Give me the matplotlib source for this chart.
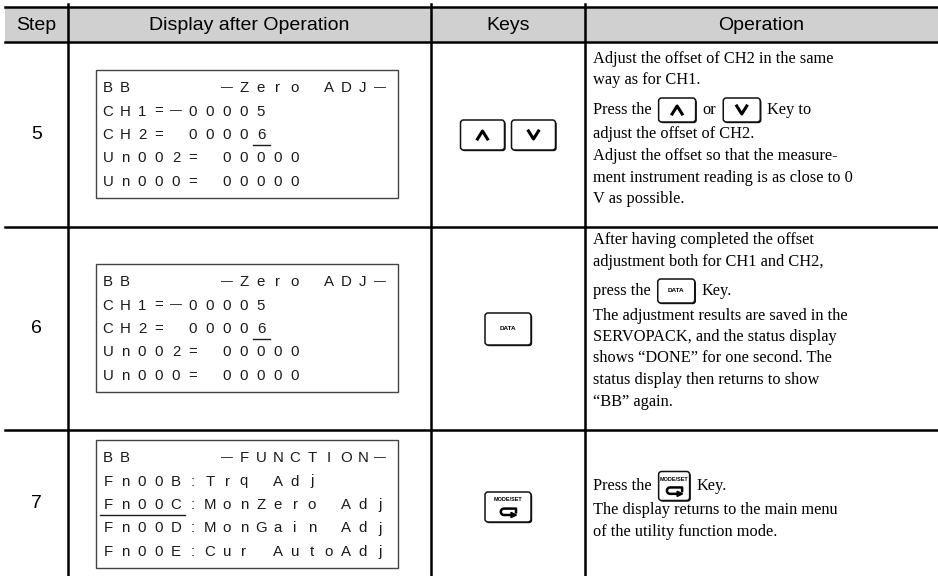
import re
import numpy as np
import matplotlib.pyplot as plt
from matplotlib.patches import Rectangle, FancyBboxPatch, Polygon
from matplotlib.lines import Line2D

# table content
headers = ['Step', 'Display after Operation', 'Keys', 'Operation']
steps = ['5', '6', '7']

display_5 = ['BB     —Zero ADJ—', 'CH1=—00005', 'CH2= 00006', 'Un002= 00000', 'Un000= 00000']
display_6 = ['BB     —Zero ADJ—', 'CH1=—00005', 'CH2= 00006', 'Un002= 00000', 'Un000= 00000']
display_7 = ['BB     —FUNCTION—', 'Fn00B:Trq Adj', 'Fn00C:MonZero Adj', 'Fn00D:MonGain Adj', 'Fn00E:Cur AutoAdj']
# underlined part of each display: (line, first char, last char)
underline_5 = (2, 9, 9)
underline_6 = (2, 9, 9)
underline_7 = (2, 0, 4)

keys_5 = ['up', 'down']
keys_6 = ['data']
keys_7 = ['mode']

operation_5 = ['Adjust the offset of CH2 in the same',
               'way as for CH1.',
               'Press the {up} or {down} Key to',
               'adjust the offset of CH2.',
               'Adjust the offset so that the measure-',
               'ment instrument reading is as close to 0',
               'V as possible.']
operation_6 = ['After having completed the offset',
               'adjustment both for CH1 and CH2,',
               'press the {data} Key.',
               'The adjustment results are saved in the',
               'SERVOPACK, and the status display',
               'shows \u201cDONE\u201d for one second. The',
               'status display then returns to show',
               '\u201cBB\u201d again.']
operation_7 = ['Press the {mode} Key.',
               'The display returns to the main menu',
               'of the utility function mode.']

displays = [display_5, display_6, display_7]
underlines = [underline_5, underline_6, underline_7]
keys = [keys_5, keys_6, keys_7]
operations = [operation_5, operation_6, operation_7]

# layout (pixels)
W, H = 938, 576
col_x = [5, 68, 431, 585, W]
line_y = [7, 42, 227, 430, H]
box_top = [70, 264, 440]
op_first_y = [59, 240, 486]
key_cy = [135, 329, 507]

SANS = 'Liberation Sans'
SERIF = 'Liberation Serif'

fig = plt.figure(figsize=(W / 100, H / 100), dpi=100)
ax = fig.add_axes([0, 0, 1, 1])
ax.set_xlim(0, W)
ax.set_ylim(H, 0)
ax.axis('off')
renderer = fig.canvas.get_renderer()


def draw_key(kind, cx, cy, w, h):
    x0, y0 = cx - w / 2, cy - h / 2
    ax.add_patch(FancyBboxPatch((x0 + 1.2, y0 + 1.2), w, h,
                                boxstyle='round,pad=0,rounding_size=3',
                                fc='#111111', ec='none', zorder=3))
    ax.add_patch(FancyBboxPatch((x0, y0), w, h,
                                boxstyle='round,pad=0,rounding_size=3',
                                fc='white', ec='#111111', lw=1.1, zorder=4))
    if kind == 'up':
        ax.add_line(Line2D([cx - 5, cx, cx + 5], [cy + 4, cy - 4, cy + 4],
                           color='black', lw=2.2, zorder=5))
    elif kind == 'down':
        ax.add_line(Line2D([cx - 5, cx, cx + 5], [cy - 4, cy + 4, cy - 4],
                           color='black', lw=2.2, zorder=5))
    elif kind == 'data':
        ax.text(cx, cy, 'DATA', fontsize=4.6, weight='bold', family=SANS,
                ha='center', va='center', zorder=5)
    elif kind == 'mode':
        ax.text(cx, cy - h * 0.24, 'MODE/SET', fontsize=4.0, weight='bold',
                family=SANS, ha='center', va='center', zorder=5)
        iy = cy + h * 0.16
        t = np.linspace(np.pi / 2, 3 * np.pi / 2, 20)
        ax_ = cx - 4 + 3.2 * np.cos(t)
        ay_ = iy + 3.2 * np.sin(t)
        px = np.concatenate([[cx + 8, cx + 8, cx - 4], ax_[::-1], [cx + 3]])
        py = np.concatenate([[iy + 0.5, iy - 3.2, iy - 3.2], ay_[::-1], [iy + 3.2]])
        ax.add_line(Line2D(px, py, color='black', lw=1.8, zorder=5))
        ax.add_patch(Polygon([[cx + 3, iy + 0.6], [cx + 3, iy + 5.8], [cx + 8.5, iy + 3.2]],
                             closed=True, fc='black', ec='black', zorder=5))


key_size = {'up': (44, 30), 'down': (44, 30), 'data': (46, 32), 'mode': (46, 30)}
inline_size = {'up': (37, 24), 'down': (37, 24), 'data': (37, 24), 'mode': (31, 29)}

# header band and grid lines
ax.add_patch(Rectangle((col_x[0], line_y[0]), W - col_x[0], line_y[1] - line_y[0],
                       fc='#d0d0d0', ec='none', zorder=0))
for y in line_y[:-1]:
    ax.add_line(Line2D([col_x[0], W], [y, y], color='black', lw=1.8, zorder=2))
for x in col_x[1:-1]:
    ax.add_line(Line2D([x, x], [4, H], color='black', lw=1.8, zorder=2))

header_y = (line_y[0] + line_y[1]) / 2 + 0.5
for i, text in enumerate(headers):
    ax.text((col_x[i] + col_x[i + 1]) / 2, header_y, text, fontsize=14,
            family=SANS, ha='center', va='center')

for r in range(3):
    row_c = (line_y[r + 1] + line_y[r + 2]) / 2
    ax.text((col_x[0] + col_x[1]) / 2, row_c, steps[r], fontsize=14,
            family=SANS, ha='center', va='center')

    # LCD display box
    top = box_top[r]
    ax.add_patch(Rectangle((96, top), 302, 128, fc='white', ec='#444444', lw=1.0))
    for li, line in enumerate(displays[r]):
        y = top + 18 + li * 23.5
        for ci, ch in enumerate(line):
            if ch == ' ':
                continue
            size = 8.6 if ch == '—' else 10.8
            ax.text(108 + ci * 17, y, ch, fontsize=size, family=SANS,
                    color='#1a1a1a', ha='center', va='center')
    ul, c0, c1 = underlines[r]
    uy = top + 18 + ul * 23.5 + 9.5
    ax.add_line(Line2D([108 + c0 * 17 - 8, 108 + c1 * 17 + 9], [uy, uy],
                       color='#1a1a1a', lw=1.0))

    # keys column
    ks = keys[r]
    gap = 7
    total = sum(key_size[k][0] for k in ks) + gap * (len(ks) - 1)
    x = (col_x[2] + col_x[3]) / 2 - total / 2
    for k in ks:
        w, h = key_size[k]
        draw_key(k, x + w / 2, key_cy[r], w, h)
        x += w + gap

    # operation text
    y = op_first_y[r]
    for li, line in enumerate(operations[r]):
        has_key = '{' in line
        if has_key and li > 0:
            y += 8
        x = 593
        for part in re.split(r'(\{\w+\})', line):
            if part.startswith('{'):
                k = part[1:-1]
                w, h = inline_size[k]
                x += 7
                draw_key(k, x + w / 2, y, w, h)
                x += w + 7
            elif part.strip():
                t = ax.text(x, y, part.strip(), fontsize=11.8, family=SERIF,
                            ha='left', va='center')
                x += t.get_window_extent(renderer).width
        y += 21.5
        if has_key:
            y += 3

fig.savefig('out.png', dpi=100)
